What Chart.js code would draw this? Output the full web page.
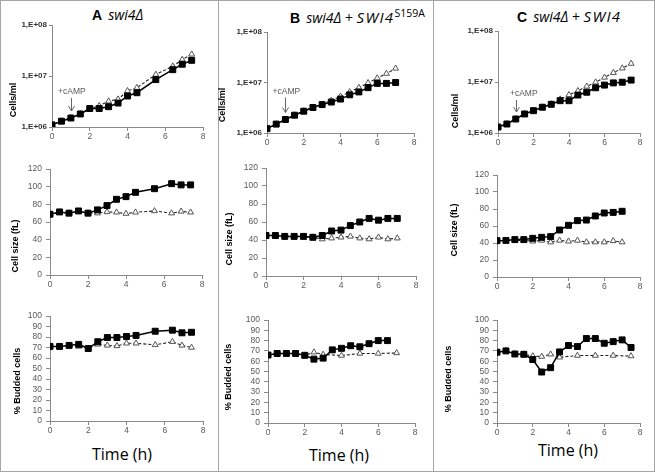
<!DOCTYPE html>
<html><head><meta charset="utf-8">
<script src="https://cdn.jsdelivr.net/npm/chart.js@4"></script>
<style>
body{margin:0;background:#fff;}
#fig{position:relative;width:655px;height:472px;overflow:hidden;background:#fff;}
#frame{position:absolute;left:0;top:0;width:655px;height:472px;box-sizing:border-box;border:1px solid #a6a6a6;}
.vsep{position:absolute;top:0;width:1px;height:472px;background:#a6a6a6;}
canvas{position:absolute;}
.ttl{position:absolute;white-space:nowrap;font-size:14px;line-height:18px;color:#000;font-family:"Open Sans","Liberation Sans",sans-serif;font-weight:400;}
.ttl b{font-family:"Liberation Sans",sans-serif;font-weight:bold;margin-right:6px;}
.ttl i{font-style:italic;}
.ttl i.cap{font-size:15px;letter-spacing:1.3px;}
.ttl sup{font-size:10.5px;font-style:normal;vertical-align:6px;line-height:0;}
.time{position:absolute;white-space:nowrap;font-size:16px;line-height:18px;color:#000;font-family:"Open Sans","Liberation Sans",sans-serif;font-weight:400;transform:translateX(-50%);}
</style></head>
<body>
<div id="fig">
  <div id="frame"></div>
  <div class="vsep" style="left:218px"></div>
  <div class="vsep" style="left:433px"></div>
  <div class="ttl" style="left:92px;top:6px"><b>A</b><i>swi4Δ</i></div>
  <div class="ttl" style="left:290px;top:8px"><b>B</b><i>swi4Δ</i> + <i class="cap">SWI4</i><sup>S159A</sup></div>
  <div class="ttl" style="left:517px;top:7px"><b>C</b><i>swi4Δ</i> + <i class="cap">SWI4</i></div>
  <div class="time" style="left:122px;top:445px">Time (h)</div>
  <div class="time" style="left:339px;top:446px">Time (h)</div>
  <div class="time" style="left:568px;top:441px">Time (h)</div>
  <canvas id="aTop"></canvas><canvas id="aMid"></canvas><canvas id="aBot"></canvas>
  <canvas id="bTop"></canvas><canvas id="bMid"></canvas><canvas id="bBot"></canvas>
  <canvas id="cTop"></canvas><canvas id="cMid"></canvas><canvas id="cBot"></canvas>
</div>
<script>
// ---------- data ----------
const CAMP_TIME = 1;
const xTicks = [0, 2, 4, 6, 8];
const logTicks = [1e6, 1e7, 1e8];
const sizeTicks = [0, 20, 40, 60, 80, 100, 120];
const budTicks = [0, 10, 20, 30, 40, 50, 60, 70, 80, 90, 100];

// Panel A: swi4Δ
const timeA = [0, 0.5, 1, 1.5, 2, 2.5, 3, 3.5, 4, 4.5, 5.5, 6.4, 6.9, 7.4];
const cellsA_cAMP = [1.1e6, 1.3e6, 1.5e6, 1.8e6, 2.3e6, 2.3e6, 2.5e6, 2.95e6, 4.05e6, 4.7e6, 8.5e6, 1.33e7, 1.7e7, 2.03e7];
const cellsA_ctrl = [1.1e6, 1.3e6, 1.5e6, 1.8e6, 2.3e6, 2.6e6, 3.2e6, 3.5e6, 5.1e6, 5.9e6, 1.07e7, 1.55e7, 2.1e7, 2.66e7];
const sizeA_cAMP = [68.8, 71.4, 70, 72.5, 70, 73.7, 78.6, 85.7, 88.7, 93.6, 97.7, 103.4, 102, 102];
const sizeA_ctrl = [68.8, 71, 70, 72, 70, 70, 71.4, 71, 69.5, 71, 72.5, 70, 72, 71];
const budA_cAMP = [71, 71, 72, 73, 69, 75.5, 79.5, 79.5, 80.5, 81.5, 85.5, 86.5, 84, 84.5];
const budA_ctrl = [71, 71, 72, 71, 69, 73, 72, 71.5, 74, 74, 72.5, 75.5, 72, 70];

// Panel B: swi4Δ + SWI4 S159A
const timeB = [0, 0.5, 1, 1.5, 2, 2.5, 3, 3.5, 4, 4.5, 5, 5.5, 6, 6.5, 7];
const cellsB_cAMP = [1.22e6, 1.5e6, 1.85e6, 2.25e6, 2.7e6, 3.2e6, 3.65e6, 4.1e6, 4.7e6, 5.7e6, 6.5e6, 7.9e6, 9.6e6, 9.6e6, 1.0e7];
const cellsB_ctrl = [1.22e6, 1.5e6, 1.85e6, 2.25e6, 2.7e6, 3.2e6, 3.7e6, 4.4e6, 5.3e6, 6.5e6, 7.9e6, 9.8e6, 1.22e7, 1.5e7, 1.9e7];
const sizeB_cAMP = [45, 45, 44, 44, 44, 43, 45, 50, 51, 56, 60, 64, 62, 64, 64];
const sizeB_ctrl = [45, 45, 44, 44, 44, 43, 41, 42, 43, 44, 42, 41, 43, 41, 42];
const timeB_bud_cAMP = [0, 0.5, 1, 1.5, 2, 2.5, 3, 3.5, 4, 4.5, 5, 5.5, 6, 6.5];
const budB_cAMP = [66, 67.5, 67.5, 67.5, 65.7, 62, 63, 71, 72.5, 75, 74, 77, 80, 80];
const timeB_bud_ctrl = [0, 0.5, 1, 1.5, 2, 2.5, 3, 4, 5, 6, 7];
const budB_ctrl = [66, 67.5, 67.5, 67.5, 65.7, 68.7, 66.5, 65.5, 67.5, 67.5, 68];

// Panel C: swi4Δ + SWI4
const timeC = [0, 0.5, 1, 1.5, 2, 2.5, 3, 3.5, 4, 4.5, 5, 5.5, 6, 6.5, 7, 7.5];
const cellsC_cAMP = [1.31e6, 1.5e6, 1.88e6, 2.36e6, 2.74e6, 3.2e6, 3.65e6, 4.3e6, 4.3e6, 5.55e6, 6.3e6, 7.7e6, 8.7e6, 9.6e6, 9.9e6, 1.09e7];
const cellsC_ctrl = [1.31e6, 1.5e6, 1.88e6, 2.36e6, 2.74e6, 3.2e6, 3.7e6, 4.6e6, 5.6e6, 6.7e6, 8.2e6, 9.9e6, 1.23e7, 1.52e7, 1.86e7, 2.3e7];
const timeC_size = [0, 0.5, 1, 1.5, 2, 2.5, 3, 3.5, 4, 4.5, 5, 5.5, 6, 6.5, 7];
const sizeC_cAMP = [42.7, 43, 44, 44, 45.5, 46.7, 47.5, 55.3, 60.8, 66.3, 67, 71.8, 75.3, 76, 77.3];
const sizeC_ctrl = [42.7, 43, 43, 43, 42, 43, 41, 43, 42, 43, 41, 41, 41, 42.5, 41];
const budC_cAMP = [68.7, 70, 67, 66.7, 61.6, 49.5, 53.7, 69, 75.2, 74.2, 82, 82, 77.4, 79, 80.7, 73.3];
const timeC_bud_ctrl = [0, 0.5, 1, 1.5, 2, 2.5, 3, 3.5, 4.5, 5.5, 6.5, 7.5];
const budC_ctrl = [68.7, 70, 67, 66.7, 65, 64.5, 66.7, 63.8, 65.5, 65.5, 65.5, 65];

// ---------- drawing ----------
const AXIS = '#8a8a8a', TICKTXT = '#595959';
const Y_W = 52, X_H = 22, PAD_T = 12, PAD_R = 14;

const customDraw = {
  id: 'customDraw',
  afterDraw(chart, args, o) {
    const ctx = chart.ctx;
    if (o.yTitle) {
      ctx.save();
      ctx.translate(o.yTitleX - o.offL, o.yTitleY - o.offT);
      ctx.rotate(-Math.PI / 2);
      ctx.font = 'bold 9px "Liberation Sans", Arial, sans-serif';
      ctx.textAlign = 'center'; ctx.textBaseline = 'middle'; ctx.fillStyle = '#000';
      ctx.fillText(o.yTitle, 0, 0);
      ctx.restore();
    }
    if (o.camp) {
      const xs = chart.scales.x;
      const meta = chart.getDatasetMeta(0);
      const ds = chart.data.datasets[0].data;
      const idx = ds.findIndex(p => p.x === CAMP_TIME);
      const px = xs.getPixelForValue(CAMP_TIME);
      const py = meta.data[idx].y;
      ctx.save();
      ctx.fillStyle = TICKTXT; ctx.strokeStyle = '#666'; ctx.lineWidth = 1;
      ctx.font = '8.5px "Liberation Sans", Arial, sans-serif';
      ctx.textAlign = 'center'; ctx.textBaseline = 'middle';
      ctx.fillText('+cAMP', px + o.camp.dx, py - o.camp.dy);
      const x0 = Math.round(px) + 0.5;
      ctx.beginPath();
      ctx.moveTo(x0, py - o.camp.dy + 6);
      ctx.lineTo(x0, py - 7);
      ctx.moveTo(x0 - 3, py - 12);
      ctx.lineTo(x0, py - 7);
      ctx.lineTo(x0 + 3, py - 12);
      ctx.stroke();
      ctx.restore();
    }
  }
};

function pts(xs, ys) { return xs.map((x, i) => ({ x: x, y: ys[i] })); }

function makeChart(id, box, s1x, s1y, s2x, s2y, kind, yTitle, yTitleX, yTitleY, camp) {
  const cv = document.getElementById(id);
  const left = box.L - Y_W, top = box.T - PAD_T;
  const w = box.R - box.L + Y_W + PAD_R, h = box.B - box.T + PAD_T + X_H;
  cv.style.left = left + 'px'; cv.style.top = top + 'px';
  cv.width = w; cv.height = h;
  cv.style.width = w + 'px'; cv.style.height = h + 'px';

  let yScale;
  const tickFont = { family: '"Liberation Sans", Arial, sans-serif', size: 8.5 };
  const grid = { display: true, drawOnChartArea: false, drawTicks: true, tickLength: 4, color: AXIS, lineWidth: 1 };
  if (kind === 'log') {
    yScale = {
      type: 'logarithmic', min: logTicks[0], max: logTicks[logTicks.length - 1],
      afterBuildTicks: s => { s.ticks = logTicks.map(v => ({ value: v })); },
      ticks: { font: { family: tickFont.family, size: 8, weight: 'bold' }, color: '#333', padding: 2, autoSkip: false,
        callback: v => '1,E+' + String(Math.round(Math.log10(v))).padStart(2, '0') },
      grid: Object.assign({}, grid, { tickLength: 3 })
    };
  } else {
    const tl = kind === 'size' ? sizeTicks : budTicks;
    yScale = {
      type: 'linear', min: tl[0], max: tl[tl.length - 1],
      afterBuildTicks: s => { s.ticks = tl.map(v => ({ value: v })); },
      ticks: { font: tickFont, color: TICKTXT, padding: 4, autoSkip: false },
      grid: grid
    };
  }
  yScale.border = { display: true, color: AXIS, width: 1 };
  yScale.afterFit = s => { s.width = Y_W; };

  return new Chart(cv, {
    type: 'line',
    data: {
      datasets: [
        { data: pts(s1x, s1y), borderColor: '#000', backgroundColor: '#000', borderWidth: 1.5,
          pointStyle: 'rect', pointRadius: 4.2, pointBorderWidth: 1, pointBorderColor: '#000',
          pointBackgroundColor: '#000', tension: 0 },
        { data: pts(s2x, s2y), borderColor: '#222', borderWidth: 1.1, borderDash: [3, 2],
          pointStyle: 'triangle', pointRadius: 3.4, pointBorderWidth: 1, pointBorderColor: '#555',
          pointBackgroundColor: '#fff', tension: 0 }
      ]
    },
    options: {
      responsive: false, animation: false, devicePixelRatio: 1,
      layout: { padding: { top: PAD_T, right: PAD_R, left: 0, bottom: 0 } },
      plugins: { legend: { display: false }, tooltip: { enabled: false },
        customDraw: { yTitle, yTitleX, yTitleY, offL: left, offT: top, camp } },
      scales: {
        x: {
          type: 'linear', min: xTicks[0], max: xTicks[xTicks.length - 1],
          afterBuildTicks: s => { s.ticks = xTicks.map(v => ({ value: v })); },
          ticks: { font: tickFont, color: TICKTXT, padding: 1, maxRotation: 0, autoSkip: false },
          grid: grid, border: { display: true, color: AXIS, width: 1 },
          afterFit: s => { s.height = X_H; }
        },
        y: yScale
      }
    },
    plugins: [customDraw]
  });
}

makeChart('aTop', { L: 52, R: 203, T: 25, B: 127 }, timeA, cellsA_cAMP, timeA, cellsA_ctrl, 'log', 'Cells/ml', 14, 100, { dx: 1, dy: 26 });
makeChart('aMid', { L: 50, R: 202, T: 169, B: 275 }, timeA, sizeA_cAMP, timeA, sizeA_ctrl, 'size', 'Cell size (fL)', 16, 246, null);
makeChart('aBot', { L: 50, R: 203, T: 316, B: 421 }, timeA, budA_cAMP, timeA, budA_ctrl, 'bud', '% Budded cells', 18, 381, null);

makeChart('bTop', { L: 267, R: 414, T: 32, B: 133 }, timeB, cellsB_cAMP, timeB, cellsB_ctrl, 'log', 'Cells/ml', 223, 105, { dx: 1, dy: 28 });
makeChart('bMid', { L: 266, R: 416, T: 168, B: 276 }, timeB, sizeB_cAMP, timeB, sizeB_ctrl, 'size', 'Cell size (fL)', 230, 239, null);
makeChart('bBot', { L: 268, R: 415, T: 320, B: 423 }, timeB_bud_cAMP, budB_cAMP, timeB_bud_ctrl, budB_ctrl, 'bud', '% Budded cells', 229, 377, null);

makeChart('cTop', { L: 498, R: 640, T: 31, B: 133 }, timeC, cellsC_cAMP, timeC, cellsC_ctrl, 'log', 'Cells/ml', 456, 111, { dx: 8, dy: 25 });
makeChart('cMid', { L: 497, R: 640, T: 175, B: 277 }, timeC_size, sizeC_cAMP, timeC_size, sizeC_ctrl, 'size', 'Cell size (fL)', 455, 230, null);
makeChart('cBot', { L: 497, R: 640, T: 320, B: 423 }, timeC, budC_cAMP, timeC_bud_ctrl, budC_ctrl, 'bud', '% Budded cells', 449, 379, null);
</script>
</body></html>
